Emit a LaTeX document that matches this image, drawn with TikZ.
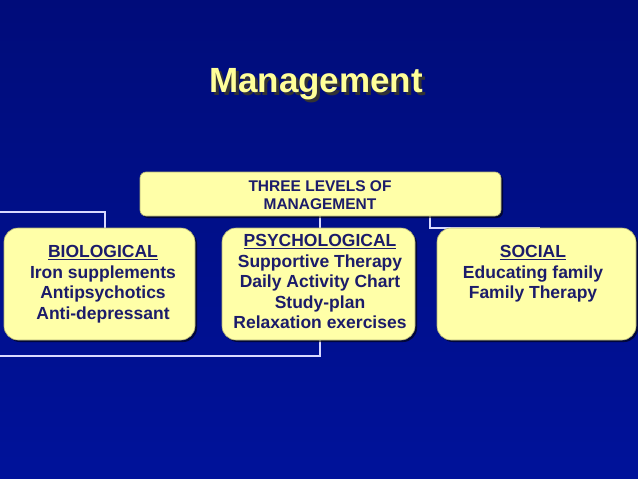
\documentclass[tikz,border=0pt]{standalone}
\usepackage{fontspec}
\setmainfont{Liberation Sans}
\usetikzlibrary{shadows}
\definecolor{bgtop}{HTML}{000C7A}
\definecolor{bgbot}{HTML}{00129A}
\definecolor{boxfill}{HTML}{FFFFA8}
\definecolor{txt}{HTML}{1C1C6A}
\definecolor{ttl}{HTML}{FFFF99}
\begin{document}
\begin{tikzpicture}[x=1pt,y=-1pt,
  box/.style={draw=boxfill!70!black,line width=0.6pt,fill=boxfill,rounded corners=14pt,
    drop shadow={shadow xshift=2pt,shadow yshift=-2pt,fill=black,opacity=0.6}},
  wire/.style={draw=white!85!blue,line width=1.6pt},
  btxt/.style={text=txt,font=\bfseries\fontsize{17.5}{20.5}\selectfont,align=center}]
\fill[top color=bgtop,bottom color=bgbot] (0,0) rectangle (638,479);
\useasboundingbox (0,0) rectangle (638,479);
\coordinate (l0) at (0,212);
\coordinate (l1) at (105,212);
\coordinate (r1) at (430,228);
\coordinate (r2) at (540,228);
\coordinate (b1) at (320,356);
\coordinate (b0) at (0,356);
\node (ttlS) at (319,87) {\bfseries\fontsize{35}{38}\selectfont\color{black!80}Management};
\node (ttl) at (316,84) {\bfseries\fontsize{35}{38}\selectfont\color{ttl}Management};
\draw[wire] (l0) -- (l1) -- (105,232);
\draw[wire] (430,210) -- (r1) -- (r2);
\draw[wire] (320,210) -- (320,232);
\draw[wire] (320,336) -- (b1) -- (b0);
\draw[box,rounded corners=6pt] (140,172) rectangle (501,216);
\node[btxt,font=\bfseries\fontsize{15.5}{18}\selectfont] (top) at (320,195) {THREE LEVELS OF\\MANAGEMENT};
\draw[box] (4,228) rectangle (195,340);
\draw[box] (222,228) rectangle (415,340);
\draw[box] (437,228) rectangle (636,340);
\node[btxt,anchor=north] (bio) at (103,242) {\underline{BIOLOGICAL}\\Iron supplements\\Antipsychotics\\Anti-depressant};
\node[btxt,anchor=north] (psy) at (320,231) {\underline{PSYCHOLOGICAL}\\Supportive Therapy\\Daily Activity Chart\\Study-plan\\Relaxation exercises};
\node[btxt,anchor=north] (soc) at (533,242) {\underline{SOCIAL}\\Educating family\\Family Therapy};
\end{tikzpicture}
\end{document}
